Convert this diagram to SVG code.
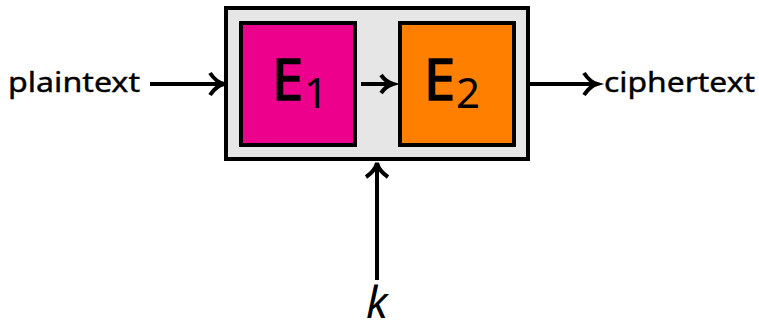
<svg xmlns="http://www.w3.org/2000/svg" width="759" height="332" viewBox="0 0 759 332">
<style>
.box{stroke:#000;stroke-width:4}
.lbl{font-family:"Noto Sans","Liberation Sans",sans-serif;font-size:27px;fill:#000;stroke:#000;stroke-width:0.4}
.big{font-family:"Noto Sans","Liberation Sans",sans-serif;font-size:56px;fill:#000;stroke:#000;stroke-width:1.6}
.sub{font-family:"Noto Sans","Liberation Sans",sans-serif;font-size:42px;fill:#000}
.c{stroke:#000;stroke-width:4;fill:none}
</style>
<g id="outer"><rect class="box" x="226" y="8" width="302" height="151" fill="#e6e6e6"/></g>
<g id="E1"><rect class="box" x="241" y="23" width="114" height="122" fill="#ec008c"/>
<text class="big" x="272" y="100">E</text><text class="sub" x="304" y="108">1</text></g>
<g id="E2"><rect class="box" x="400" y="23" width="114" height="122" fill="#ff8000"/>
<text class="big" x="424" y="100">E</text><text class="sub" x="456" y="108">2</text></g>
<g id="plaintext"><text class="lbl" x="8" y="92" textLength="132" lengthAdjust="spacingAndGlyphs">plaintext</text></g>
<g id="ciphertext"><text class="lbl" x="604" y="92" textLength="151" lengthAdjust="spacingAndGlyphs">ciphertext</text></g>
<g id="k"><text x="366" y="318" style="font-family:'Noto Sans','Liberation Sans',sans-serif;font-style:italic;font-size:44px;fill:#000">k</text></g>
<g id="connectors">
<path class="c" d="M150,84 H222"/><path class="c" d="M210,73 Q216,82 224,84 Q216,86 210,95"/>
<path class="c" d="M361,84 H391"/><path class="c" d="M381,75 Q386,82 393,84 Q386,86 381,93"/>
<path class="c" d="M530,84 H594"/><path class="c" d="M584,73 Q590,82 597,84 Q590,86 584,95"/>
<path class="c" d="M377,280 V165"/><path class="c" d="M366,177 Q375,171 377,163 Q379,171 388,177"/>
</g>
</svg>
